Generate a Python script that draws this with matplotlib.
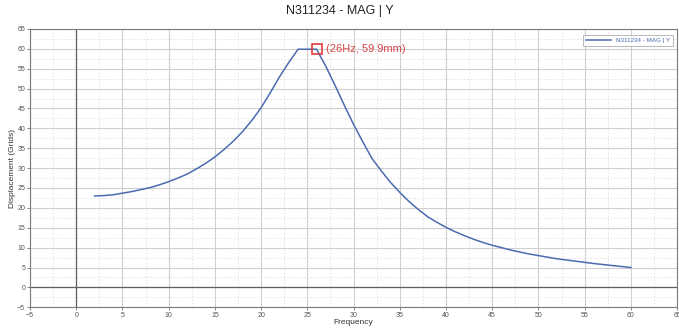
import matplotlib
matplotlib.use("Agg")
import matplotlib.pyplot as plt
from matplotlib.ticker import MultipleLocator

plt.rcParams['font.family'] = ['Liberation Sans', 'DejaVu Sans']

freq = list(range(2, 61))
disp = [23.0, 23.1, 23.3, 23.7, 24.1, 24.6, 25.1, 25.8, 26.6, 27.5,
        28.5, 29.8, 31.2, 32.8, 34.7, 36.8, 39.2, 42.0, 45.2, 49.0,
        53.0, 56.6, 59.9, 59.9, 59.9, 55.6, 50.8, 45.8, 41.0, 36.6,
        32.4, 29.3, 26.4, 23.9, 21.6, 19.6, 17.8, 16.4, 15.1, 14.0,
        13.0, 12.1, 11.3, 10.6, 10.0, 9.4, 8.9, 8.4, 8.0, 7.6,
        7.2, 6.9, 6.6, 6.3, 6.0, 5.75, 5.5, 5.25, 5.0]
peak_x, peak_y = 26, 59.9
title = "N311234 - MAG | Y"

fig = plt.figure(figsize=(6.79, 3.29), dpi=100)
ax = fig.add_axes([0.0442, 0.066, 0.953, 0.846])
ax.set_xlim(-5, 65)
ax.set_ylim(-5, 65)
ax.xaxis.set_major_locator(MultipleLocator(5))
ax.yaxis.set_major_locator(MultipleLocator(5))
ax.xaxis.set_minor_locator(MultipleLocator(2.5))
ax.yaxis.set_minor_locator(MultipleLocator(2.5))
ax.grid(which='major', color='#cfcfcf', lw=0.8)
ax.grid(which='minor', color='#e0e0e0', lw=0.6, ls=(0, (2, 2)))
ax.set_axisbelow(True)
ax.axvline(0, color='#606060', lw=0.9)
ax.axhline(0, color='#606060', lw=0.9)
for s in ax.spines.values():
    s.set_color('#7a7a7a')
    s.set_linewidth(0.8)
ax.tick_params(which='both', labelsize=5, colors='#555555', length=2, width=0.5, pad=1.5)
ax.tick_params(which='minor', length=0)

ax.plot(freq, disp, color='#4a6bb0', lw=1.1, label=title)
ax.plot([peak_x], [peak_y], marker='s', ms=7, mfc='none', mec='#e03c3c', mew=1.2)
ax.annotate(f"({peak_x}Hz, {peak_y}mm)", (peak_x, peak_y), xytext=(7, 0),
            textcoords='offset points', va='center', ha='left',
            color='#d9464a', fontsize=8)

ax.set_xlabel("Frequency", fontsize=6, color='#333333', labelpad=0)
ax.set_ylabel("Displacement (Grids)", fontsize=6, color='#333333', labelpad=1)
fig.suptitle(title, fontsize=9, x=0.5, y=0.985, color='#222222')

leg = ax.legend(loc='upper right', fontsize=4.5, frameon=True, fancybox=False,
                handlelength=4, borderpad=0.5, bbox_to_anchor=(0.999, 0.99))
leg.get_frame().set_edgecolor('#999999')
leg.get_frame().set_linewidth(0.6)
for t in leg.get_texts():
    t.set_color('#4a6bb0')

fig.savefig("out.png", dpi=100)
